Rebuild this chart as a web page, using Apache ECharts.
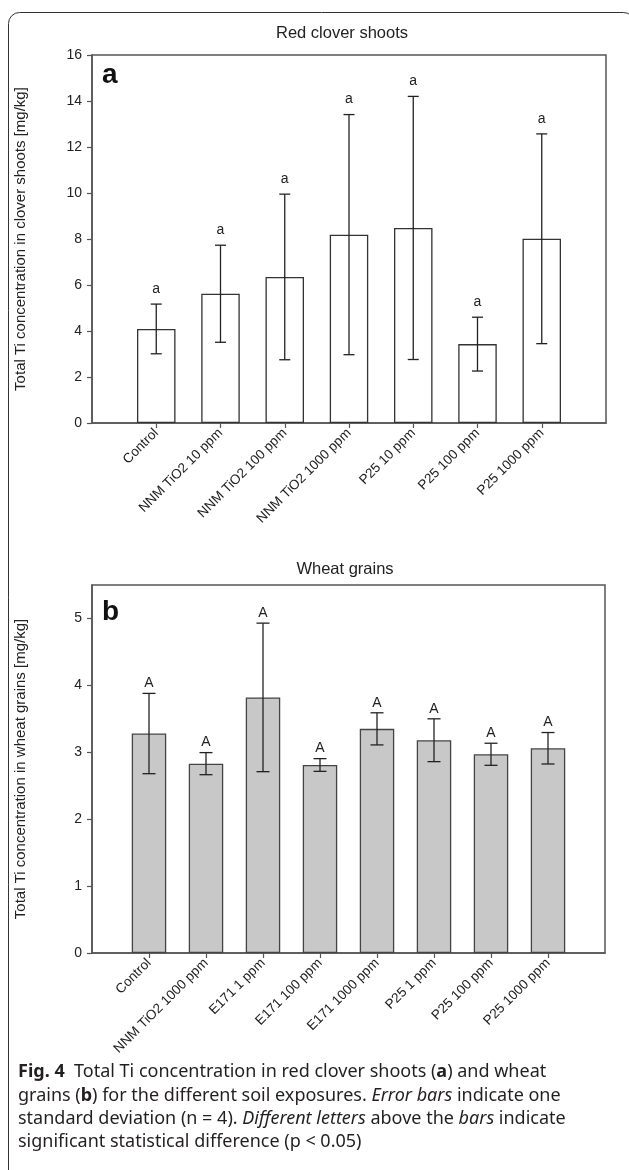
<!DOCTYPE html>
<html><head><meta charset="utf-8">
<script src="https://cdn.jsdelivr.net/npm/echarts@6/dist/echarts.min.js"></script>
<style>html,body{margin:0;padding:0;background:#fff}#c{width:629px;height:1170px}</style>
</head><body><div id="c"></div>
<script>
// ---- data ----
const cloverCategories = ['Control', 'NNM TiO2 10 ppm', 'NNM TiO2 100 ppm', 'NNM TiO2 1000 ppm', 'P25 10 ppm', 'P25 100 ppm', 'P25 1000 ppm'];
const cloverMean = [4.09, 5.62, 6.35, 8.19, 8.48, 3.43, 8.01];
const cloverSD = [1.08, 2.11, 3.60, 5.22, 5.72, 1.17, 4.56];
const cloverLetters = ['a', 'a', 'a', 'a', 'a', 'a', 'a'];
const cloverTicks = [0, 2, 4, 6, 8, 10, 12, 14, 16];

const wheatCategories = ['Control', 'NNM TiO2 1000 ppm', 'E171 1 ppm', 'E171 100 ppm', 'E171 1000 ppm', 'P25 1 ppm', 'P25 100 ppm', 'P25 1000 ppm'];
const wheatMean = [3.28, 2.83, 3.82, 2.81, 3.35, 3.18, 2.97, 3.06];
const wheatSD = [0.60, 0.165, 1.11, 0.095, 0.24, 0.32, 0.165, 0.235];
const wheatLetters = ['A', 'A', 'A', 'A', 'A', 'A', 'A', 'A'];
const wheatTicks = [0, 1, 2, 3, 4, 5];

// ---- helpers ----
const FONT = '"Liberation Sans", Arial, sans-serif';
const AX = '#555';
function padCats(c) { return [''].concat(c).concat(['']); }
function padVals(v) { return ['-'].concat(v).concat(['-']); }
function errData(mean, sd) { return mean.map((m, i) => [i + 1, m - sd[i], m + sd[i]]); }
function errRender(capHalf, letters, gap) {
  return function (params, api) {
    const x = api.value(0);
    const lo = api.coord([x, api.value(1)]);
    const hi = api.coord([x, api.value(2)]);
    const st = { stroke: '#222', lineWidth: 1.3 };
    return {
      type: 'group', children: [
        { type: 'line', shape: { x1: lo[0], y1: lo[1], x2: hi[0], y2: hi[1] }, style: st },
        { type: 'line', shape: { x1: hi[0] - capHalf, y1: hi[1], x2: hi[0] + capHalf, y2: hi[1] }, style: st },
        { type: 'line', shape: { x1: lo[0] - capHalf, y1: lo[1], x2: lo[0] + capHalf, y2: lo[1] }, style: st },
        { type: 'text', x: hi[0], y: hi[1] - gap, style: { text: letters[params.dataIndex], fill: '#222', font: '14px ' + FONT, textAlign: 'center', textVerticalAlign: 'bottom' } }
      ]
    };
  };
}
function xAxisCfg(gi, cats) {
  const n = cats.length;
  const show = (i) => i > 0 && i <= n;
  return {
    gridIndex: gi, type: 'category', data: padCats(cats), boundaryGap: false,
    axisLine: { show: true, lineStyle: { color: AX, width: 1.5 } },
    axisTick: { show: true, interval: show, length: 5, lineStyle: { color: AX, width: 1.2 } },
    axisLabel: { interval: show, rotate: 45, fontSize: 13.5, color: '#222', margin: 8, fontFamily: FONT },
    splitLine: { show: false }
  };
}
function yAxisCfg(gi, max, ticks, name) {
  return {
    gridIndex: gi, type: 'value', min: 0, max: max,
    axisLine: { show: true, lineStyle: { color: AX, width: 1.5 } },
    axisTick: { show: true, length: 5, customValues: ticks, lineStyle: { color: AX, width: 1.2 } },
    axisLabel: { customValues: ticks, fontSize: 14, color: '#222', margin: 10, fontFamily: FONT },
    splitLine: { show: false },
    name: name, nameLocation: 'middle', nameGap: 64,
    nameTextStyle: { fontSize: 15, color: '#222', fontFamily: FONT }
  };
}

const capStyle = { fontSize: 18, fontFamily: 'Noto Sans' };
const chart = echarts.init(document.getElementById('c'), null, { renderer: 'canvas' });
chart.setOption({
  animation: false,
  backgroundColor: '#fff',
  grid: [
    { left: 92, top: 55, width: 514, height: 368, show: true, borderColor: AX, borderWidth: 1.5, containLabel: false },
    { left: 92, top: 585, width: 513, height: 368, show: true, borderColor: AX, borderWidth: 1.5, containLabel: false }
  ],
  xAxis: [xAxisCfg(0, cloverCategories), xAxisCfg(1, wheatCategories)],
  yAxis: [
    yAxisCfg(0, 16, cloverTicks, 'Total Ti concentration in clover shoots [mg/kg]'),
    yAxisCfg(1, 5.5, wheatTicks, 'Total Ti concentration in wheat grains [mg/kg]')
  ],
  series: [
    { type: 'bar', xAxisIndex: 0, yAxisIndex: 0, data: padVals(cloverMean), barWidth: 38.5,
      itemStyle: { color: '#fff', borderColor: '#333', borderWidth: 1.3 } },
    { type: 'custom', xAxisIndex: 0, yAxisIndex: 0, data: errData(cloverMean, cloverSD),
      renderItem: errRender(5.5, cloverLetters, 8), z: 5 },
    { type: 'bar', xAxisIndex: 1, yAxisIndex: 1, data: padVals(wheatMean), barWidth: 34.5,
      itemStyle: { color: '#c8c8c8', borderColor: '#444', borderWidth: 1.3 } },
    { type: 'custom', xAxisIndex: 1, yAxisIndex: 1, data: errData(wheatMean, wheatSD),
      renderItem: errRender(6.5, wheatLetters, 3), z: 5 }
  ],
  graphic: [
    { type: 'rect', shape: { x: 8.5, y: 12.5, width: 626, height: 1180, r: 11 }, style: { fill: 'none', stroke: '#333', lineWidth: 1 }, z: 100 },
    { type: 'text', x: 342, y: 33, style: { text: 'Red clover shoots', font: '16.5px ' + FONT, fill: '#222', textAlign: 'center', textVerticalAlign: 'middle' } },
    { type: 'text', x: 345, y: 569, style: { text: 'Wheat grains', font: '16.5px ' + FONT, fill: '#222', textAlign: 'center', textVerticalAlign: 'middle' } },
    { type: 'text', x: 102, y: 75, style: { text: 'a', font: 'bold 28px ' + FONT, fill: '#111', textAlign: 'left', textVerticalAlign: 'middle' } },
    { type: 'text', x: 102, y: 612, style: { text: 'b', font: 'bold 28px ' + FONT, fill: '#111', textAlign: 'left', textVerticalAlign: 'middle' } },
    { type: 'group', x: 18, y: 1063, children: [
      { type: 'text', x: 0, y: 0, style: { text: '{b|Fig. 4}  Total Ti concentration in red clover shoots ({b|a}) and wheat', font: '18px "Noto Sans"', fill: '#231f20',
        rich: { b: Object.assign({ fontWeight: 'bold' }, capStyle) } } },
      { type: 'text', x: 0, y: 23.4, style: { text: 'grains ({b|b}) for the different soil exposures. {i|Error bars} indicate one', font: '18px "Noto Sans"', fill: '#231f20',
        rich: { b: Object.assign({ fontWeight: 'bold' }, capStyle), i: Object.assign({ fontStyle: 'italic' }, capStyle) } } },
      { type: 'text', x: 0, y: 46.8, style: { text: 'standard deviation (n = 4). {i|Different letters} above the {i|bars} indicate', font: '18px "Noto Sans"', fill: '#231f20',
        rich: { i: Object.assign({ fontStyle: 'italic' }, capStyle) } } },
      { type: 'text', x: 0, y: 70.2, style: { text: 'significant statistical difference (p < 0.05)', font: '18px "Noto Sans"', fill: '#231f20' } }
    ] }
  ]
});
</script>
</body></html>
